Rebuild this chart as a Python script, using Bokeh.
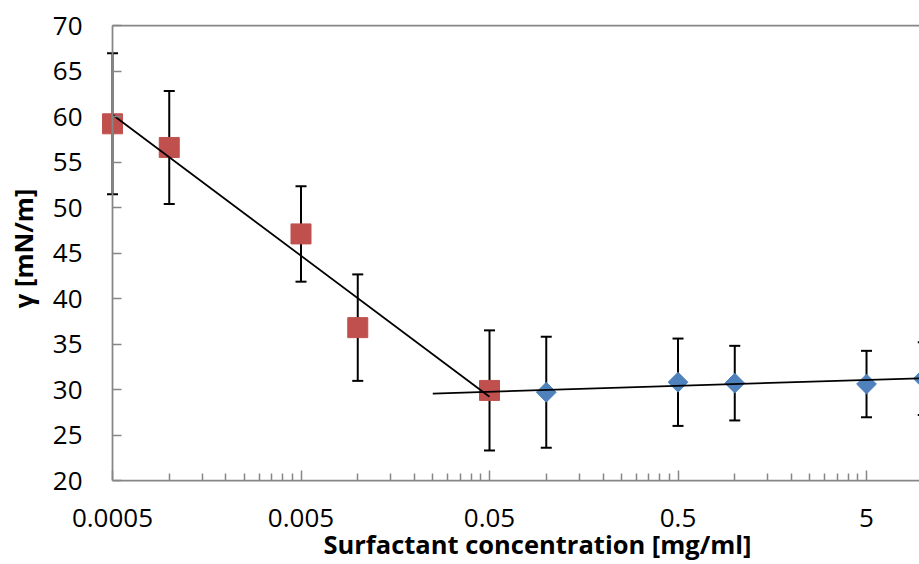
import numpy as np
from bokeh.plotting import figure
from bokeh.models import Range1d, FixedTicker, LinearAxis, Label
from bokeh.embed import file_html
from bokeh.resources import INLINE

# ---- data ----
red_x = [0.0005, 0.001, 0.005, 0.01, 0.05]
red_y = [59.2, 56.6, 47.1, 36.8, 29.9]
red_err = [7.75, 6.2, 5.25, 5.85, 6.6]

blue_x = [0.1, 0.5, 1.0, 5.0, 10.0]
blue_y = [29.7, 30.8, 30.7, 30.6, 31.2]
blue_err = [6.1, 4.8, 4.1, 3.65, 4.0]

trend1_x = [0.0005, 0.05]
trend1_y = [60.2, 29.2]
trend2_x = [0.025, 10.0]
trend2_y = [29.55, 31.25]

x_major_ticks = [0.0005, 0.005, 0.05, 0.5, 5]
x_tick_labels = ["0.0005", "0.005", "0.05", "0.5", "5"]
y_ticks = [20, 25, 30, 35, 40, 45, 50, 55, 60, 65, 70]

x_title = "Surfactant concentration [mg/ml]"
y_title = "γ [mN/m]"

# ---- styling / layout ----
FONT = "Open Sans"
AXIS_GRAY = "#868686"
RED = "#C0504D"
BLUE = "#4F81BD"
X_MIN, X_MAX = 0.0005, 9.55      # visible axis extent
Y_MIN, Y_MAX = 20, 70
# the plotting frame covers the whole canvas; axes sit at fixed locations inside it
VIEW_X = (0.0001273, 9.55)
VIEW_Y = (10.77, 72.75)

p = figure(width=919, height=564, x_axis_type="log",
           x_range=Range1d(*VIEW_X), y_range=Range1d(*VIEW_Y),
           output_backend="svg", toolbar_location=None,
           min_border_left=0, min_border_right=0,
           min_border_top=0, min_border_bottom=0)
p.outline_line_color = None
p.grid.visible = False
p.background_fill_color = "white"
p.border_fill_color = "white"

minor = [m * k for m in x_major_ticks for k in range(2, 10)]
xa = p.xaxis[0]
xa.fixed_location = Y_MIN
xa.bounds = (X_MIN, X_MAX)
xa.ticker = FixedTicker(ticks=x_major_ticks, minor_ticks=minor)
xa.major_label_overrides = {t: s for t, s in zip(x_major_ticks, x_tick_labels)}
xa.axis_line_color = AXIS_GRAY
xa.axis_line_width = 1.75
xa.major_tick_line_color = AXIS_GRAY
xa.minor_tick_line_color = AXIS_GRAY
xa.major_tick_line_width = 1.5
xa.minor_tick_line_width = 1.5
xa.major_tick_in = 10
xa.major_tick_out = 0
xa.minor_tick_in = 7
xa.minor_tick_out = 0
xa.major_label_text_font = FONT
xa.major_label_text_font_size = "26px"
xa.major_label_text_color = "black"
xa.major_label_standoff = 28

ya = p.yaxis[0]
ya.fixed_location = X_MIN
ya.bounds = (Y_MIN, Y_MAX)
ya.ticker = FixedTicker(ticks=y_ticks)
ya.axis_line_color = AXIS_GRAY
ya.axis_line_width = 1.75
ya.major_tick_line_color = AXIS_GRAY
ya.major_tick_line_width = 1.5
ya.major_tick_in = 9
ya.major_tick_out = 0
ya.minor_tick_line_color = None
ya.major_label_text_font = FONT
ya.major_label_text_font_size = "26px"
ya.major_label_text_color = "black"
ya.major_label_standoff = 30

top_axis = LinearAxis(ticker=FixedTicker(ticks=[]), axis_line_color=AXIS_GRAY,
                      axis_line_width=1.75, major_tick_line_color=None,
                      minor_tick_line_color=None, major_label_text_font_size="0px",
                      major_label_standoff=0, bounds=(X_MIN, X_MAX),
                      fixed_location=Y_MAX)
p.add_layout(top_axis, "above")

# error bars
red_lo = [y - e for y, e in zip(red_y, red_err)]
red_hi = [y + e for y, e in zip(red_y, red_err)]
blue_lo = [y - e for y, e in zip(blue_y, blue_err)]
blue_hi = [y + e for y, e in zip(blue_y, blue_err)]

for xs, lo, hi in [(red_x, red_lo, red_hi), (blue_x, blue_lo, blue_hi)]:
    p.segment(x0=xs, y0=lo, x1=xs, y1=hi, line_color="black", line_width=2)
    p.scatter(x=xs, y=lo, marker="dash", size=11, line_color="black", line_width=2)
    p.scatter(x=xs, y=hi, marker="dash", size=11, line_color="black", line_width=2)

# markers
p.scatter(x=red_x, y=red_y, marker="square", size=20, fill_color=RED, line_color=RED)
p.scatter(x=blue_x, y=blue_y, marker="square", angle=np.pi / 4, size=14,
          fill_color=BLUE, line_color=BLUE)

# trend lines
p.line(trend1_x, trend1_y, line_color="black", line_width=1.75)
p.line(trend2_x, trend2_y, line_color="black", line_width=1.75)

# axis titles (screen units, measured from the bottom-left of the frame = canvas)
p.add_layout(Label(x=537, y=21, x_units="screen", y_units="screen", text=x_title,
                   text_font=FONT, text_font_style="bold", text_font_size="25.5px",
                   text_align="center", text_baseline="alphabetic", text_color="black"))
p.add_layout(Label(x=22, y=316, x_units="screen", y_units="screen", text=y_title,
                   angle=np.pi / 2, text_font=FONT, text_font_style="bold",
                   text_font_size="25.5px", text_align="center", text_baseline="alphabetic",
                   text_color="black"))

open("out.html", "w").write(file_html(p, INLINE))
